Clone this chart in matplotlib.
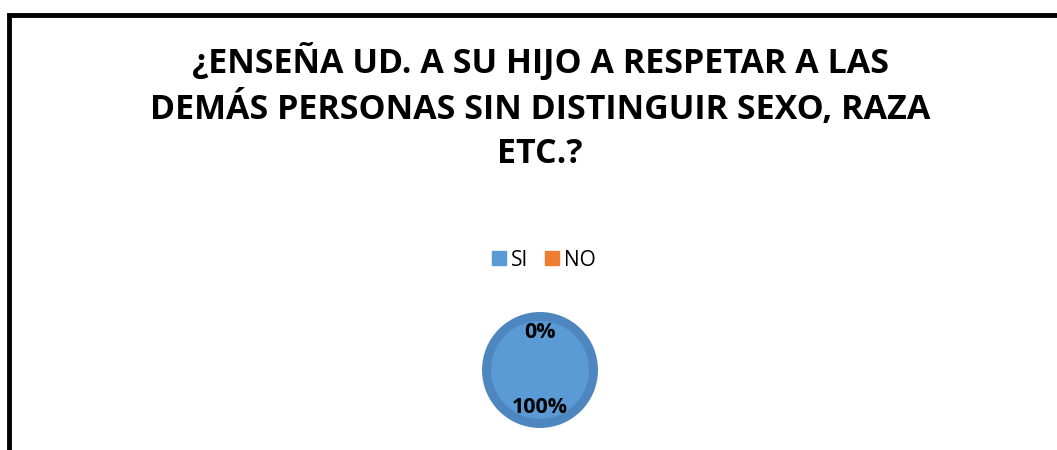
import matplotlib
matplotlib.use("Agg")
import matplotlib.pyplot as plt
from matplotlib.patches import Rectangle

plt.rcParams['font.family'] = ['Open Sans', 'DejaVu Sans']

title = "¿ENSEÑA UD. A SU HIJO A RESPETAR A LAS\nDEMÁS PERSONAS SIN DISTINGUIR SEXO, RAZA\nETC.?"
labels = ['SI', 'NO']
values = [100, 0]
colors = ['#5B9BD5', '#ED7D31']

fig = plt.figure(figsize=(10.57, 4.5), dpi=100)

# frame of the chart area (cut off at right and bottom)
fig.patches.append(Rectangle((9 / 1057, -0.1), 1.2, (450 - 15) / 450 + 0.1,
                             transform=fig.transFigure, fill=False,
                             edgecolor='black', linewidth=3.5))

fig.text(540 / 1057, 1 - 107 / 450, title, ha='center', va='center',
         fontsize=24.5, fontweight='bold', linespacing=1.36, color='black')

# pie axes in pixel coordinates
ax = fig.add_axes([0, 0, 1, 1])

cx, cy, r = 540, 450 - 370, 58
# darker rim
ax.pie(values, colors=['#4E87BF', '#D46A22'], radius=r, center=(cx, cy),
       startangle=90, counterclock=False, frame=True)
wedges, texts, autotexts = ax.pie(values, colors=colors, radius=r - 9, center=(cx, cy),
                                  startangle=90, counterclock=False, frame=True,
                                  autopct='%1.0f%%', pctdistance=0.64 * (r / (r - 9)),
                                  textprops=dict(fontsize=15.5, fontweight='bold', color='black'))
ax.set_xlim(0, 1057)
ax.set_ylim(0, 450)
ax.set_aspect('equal')
ax.axis('off')

handles = [Rectangle((0, 0), 1, 1, color=c) for c in colors]
fig.legend(handles, labels, loc='center', bbox_to_anchor=(544 / 1057, 1 - 260 / 450),
           ncol=2, frameon=False, fontsize=15, handlelength=0.65, handleheight=0.65,
           handletextpad=0.25, columnspacing=0.8)

fig.savefig('out.png', dpi=100, facecolor='white')
